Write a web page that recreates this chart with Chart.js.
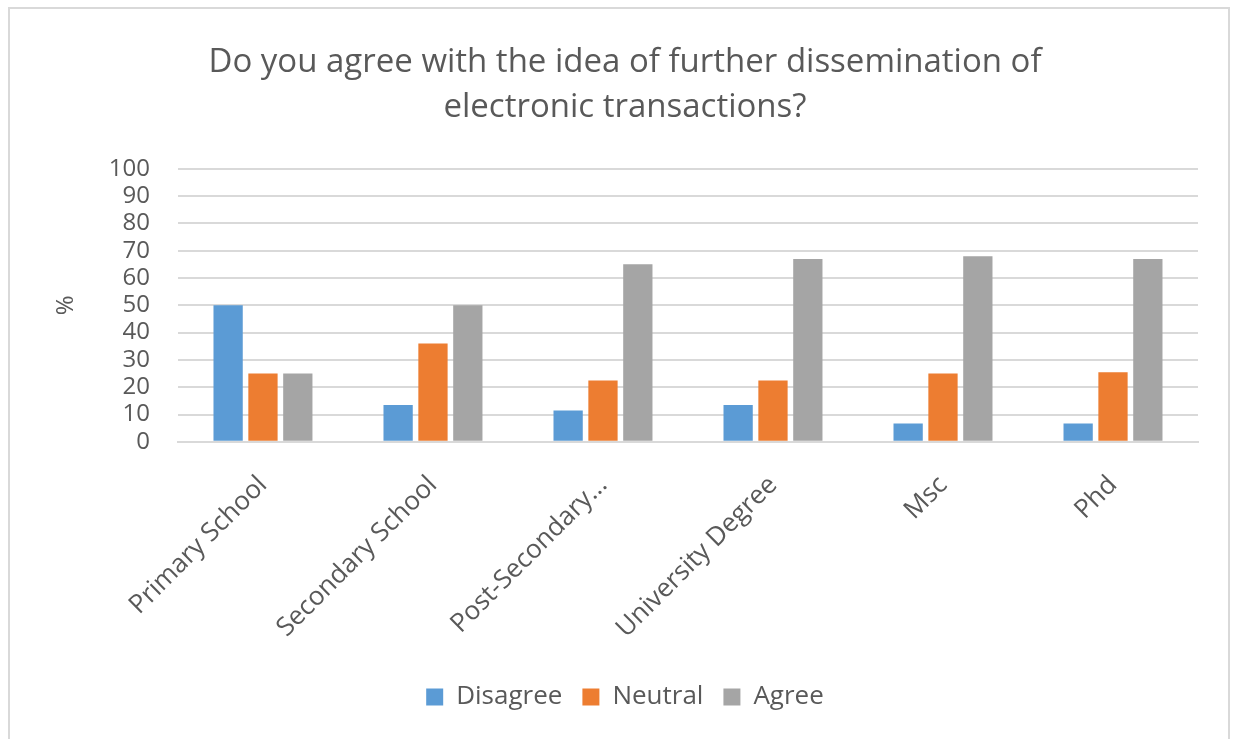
<!DOCTYPE html>
<html lang="en">
<head>
    <meta charset="UTF-8">
    <title>Electronic transactions survey</title>
    <script src="https://cdn.jsdelivr.net/npm/chart.js"></script>
    <style>
        body {
            margin: 0;
            background: #fff;
        }
        .frame {
            position: absolute;
            left: 8px;
            top: 7px;
            width: 1218px;
            height: 730px;
            border: 2px solid #d9d9d9;
            border-bottom: none;
        }
        #chart {
            position: absolute;
            left: 0;
            top: 0;
        }
    </style>
</head>
<body>
    <div class="frame"></div>
    <canvas id="chart" width="1233" height="740"></canvas>

    <script>
        const categories = ['Primary School', 'Secondary School', 'Post-Secondary...', 'University Degree', 'Msc', 'Phd'];
        const disagree = [50, 13.5, 11.5, 13.5, 6.7, 6.7];
        const neutral = [25, 36, 22.5, 22.5, 25, 25.5];
        const agree = [25, 50, 65, 67, 68, 67];

        const textColor = '#595959';
        const fontFamily = '"Open Sans", sans-serif';

        new Chart(document.getElementById('chart'), {
            type: 'bar',
            data: {
                labels: categories,
                datasets: [
                    { label: 'Disagree', data: disagree, backgroundColor: '#5b9bd5' },
                    { label: 'Neutral', data: neutral, backgroundColor: '#ed7d31' },
                    { label: 'Agree', data: agree, backgroundColor: '#a5a5a5' }
                ]
            },
            options: {
                responsive: false,
                animation: false,
                layout: {
                    padding: { left: 52, right: 35, top: 40, bottom: 20 }
                },
                datasets: {
                    bar: { categoryPercentage: 0.615, barPercentage: 0.84 }
                },
                plugins: {
                    title: {
                        display: true,
                        text: ['Do you agree with the idea of further dissemination of', 'electronic transactions?'],
                        color: textColor,
                        font: { family: fontFamily, size: 33, weight: 'normal', lineHeight: 1.36 },
                        padding: { top: 0, bottom: 39 }
                    },
                    legend: {
                        position: 'bottom',
                        labels: {
                            color: textColor,
                            font: { family: fontFamily, size: 26 },
                            boxWidth: 17,
                            boxHeight: 17,
                            padding: 20
                        }
                    },
                    tooltip: { enabled: false }
                },
                scales: {
                    x: {
                        grid: { display: false },
                        border: { color: '#d9d9d9', width: 2 },
                        ticks: {
                            color: textColor,
                            font: { family: fontFamily, size: 26 },
                            maxRotation: 45,
                            minRotation: 45,
                            padding: 20
                        }
                    },
                    y: {
                        min: 0,
                        max: 100,
                        title: {
                            display: true,
                            text: '%',
                            color: textColor,
                            font: { family: fontFamily, size: 24 },
                            padding: 0
                        },
                        grid: { color: '#d9d9d9', lineWidth: 2, drawTicks: false },
                        border: { display: false },
                        ticks: {
                            stepSize: 10,
                            autoSkip: false,
                            color: textColor,
                            font: { family: fontFamily, size: 24 },
                            padding: 28
                        }
                    }
                }
            }
        });
    </script>
</body>
</html>
